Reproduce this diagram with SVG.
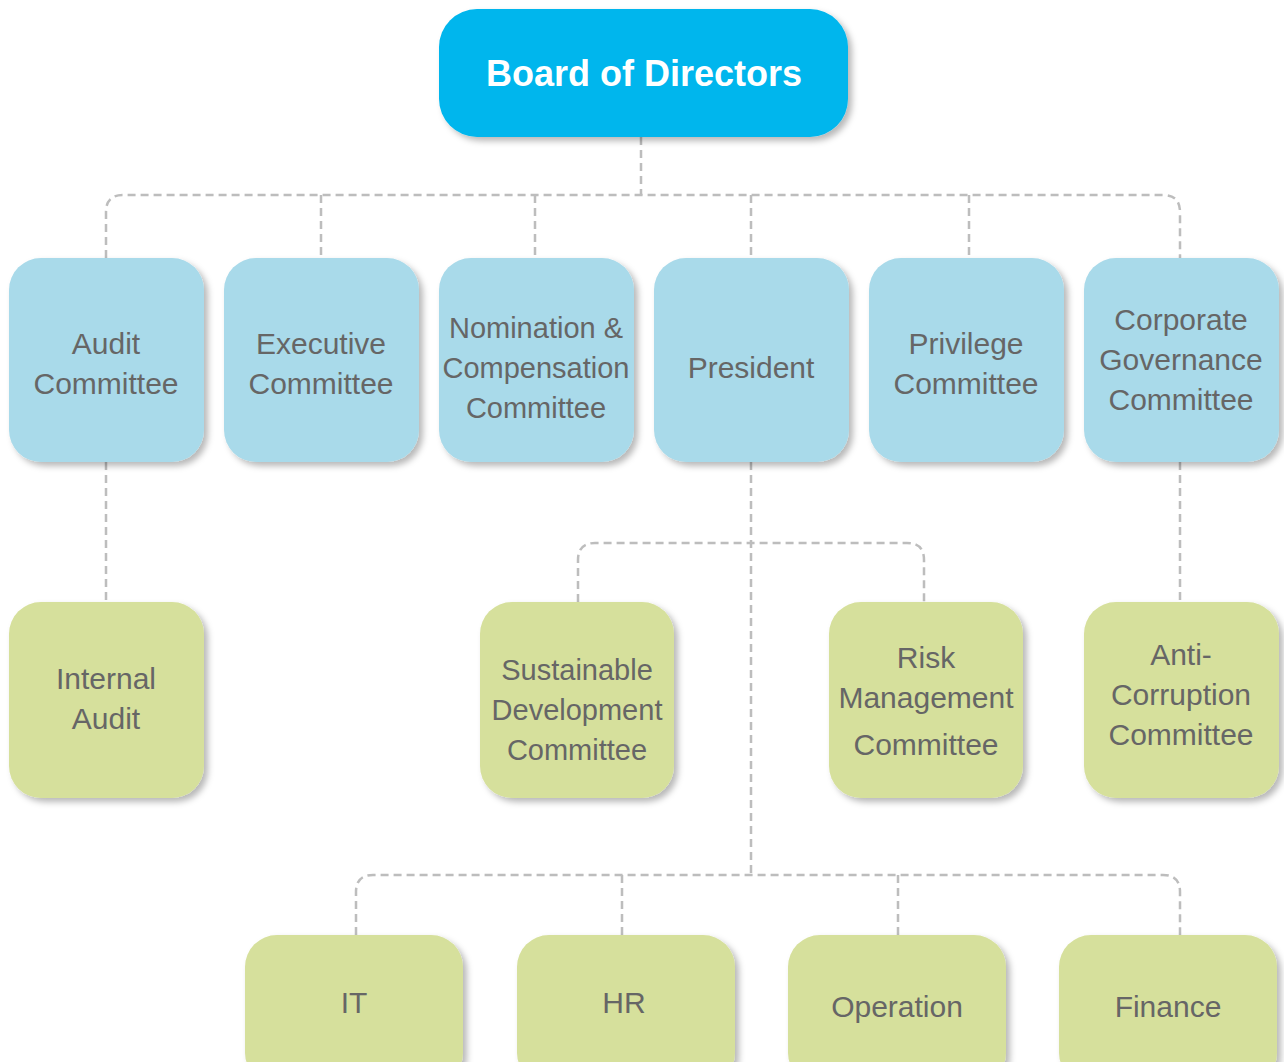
<svg xmlns="http://www.w3.org/2000/svg" width="1284" height="1062" viewBox="0 0 1284 1062">
<defs>
<filter id="sh" x="-20%" y="-20%" width="140%" height="140%">
<feDropShadow dx="4" dy="4" stdDeviation="3" flood-color="#000" flood-opacity="0.28"/>
</filter>
<style>
.board{fill:#05B6ED;filter:url(#sh)}
.blue{fill:#A9DAEA;filter:url(#sh)}
.green{fill:#D6E09C;filter:url(#sh)}
.t{font-family:"Liberation Sans",Arial,sans-serif;font-size:30px;fill:#666;text-anchor:middle}
.s{font-size:29px}
.bt{font-family:"Liberation Sans",Arial,sans-serif;font-size:36px;font-weight:bold;fill:#fff;text-anchor:middle}
.c{fill:none;stroke:#BDBDBD;stroke-width:2.5;stroke-dasharray:8 5}
</style>
</defs>
<rect width="1284" height="1062" fill="#fff"/>
<g id="connectors">
<path class="c" d="M641,137 V195"/>
<path class="c" d="M106,258 V212 Q106,195 123,195 H1163 Q1180,195 1180,212 V258"/>
<path class="c" d="M321,195 V258"/>
<path class="c" d="M535,195 V258"/>
<path class="c" d="M751,195 V258"/>
<path class="c" d="M969,195 V258"/>
<path class="c" d="M106,462 V602"/>
<path class="c" d="M1180,462 V602"/>
<path class="c" d="M751,462 V875"/>
<path class="c" d="M578,602 V560 Q578,543 595,543 H907 Q924,543 924,560 V602"/>
<path class="c" d="M356,935 V892 Q356,875 373,875 H1163 Q1180,875 1180,892 V935"/>
<path class="c" d="M622,875 V935"/>
<path class="c" d="M898,875 V935"/>
</g>
<g id="board"><rect class="board" x="439" y="9" width="409" height="128" rx="38"/><text class="bt" x="644" y="86">Board of Directors</text></g>
<g id="audit"><rect class="blue" x="9" y="258" width="195" height="204" rx="32"/><text class="t" x="106" y="354">Audit</text><text class="t" x="106" y="394">Committee</text></g>
<g id="executive"><rect class="blue" x="224" y="258" width="195" height="204" rx="32"/><text class="t" x="321" y="354">Executive</text><text class="t" x="321" y="394">Committee</text></g>
<g id="nomination"><rect class="blue" x="439" y="258" width="195" height="204" rx="32"/><text class="t s" x="536" y="338">Nomination &amp;</text><text class="t s" x="536" y="378">Compensation</text><text class="t s" x="536" y="418">Committee</text></g>
<g id="president"><rect class="blue" x="654" y="258" width="195" height="204" rx="32"/><text class="t" x="751" y="378">President</text></g>
<g id="privilege"><rect class="blue" x="869" y="258" width="195" height="204" rx="32"/><text class="t" x="966" y="354">Privilege</text><text class="t" x="966" y="394">Committee</text></g>
<g id="corporate"><rect class="blue" x="1084" y="258" width="195" height="204" rx="32"/><text class="t" x="1181" y="330">Corporate</text><text class="t" x="1181" y="370">Governance</text><text class="t" x="1181" y="410">Committee</text></g>
<g id="internal-audit"><rect class="green" x="9" y="602" width="195" height="196" rx="32"/><text class="t" x="106" y="689">Internal</text><text class="t" x="106" y="729">Audit</text></g>
<g id="sustainable"><rect class="green" x="480" y="602" width="194" height="196" rx="32"/><text class="t s" x="577" y="680">Sustainable</text><text class="t s" x="577" y="720">Development</text><text class="t s" x="577" y="760">Committee</text></g>
<g id="risk"><rect class="green" x="829" y="602" width="194" height="196" rx="32"/><text class="t" x="926" y="668">Risk</text><text class="t" x="926" y="708">Management</text><text class="t" x="926" y="755">Committee</text></g>
<g id="anti"><rect class="green" x="1084" y="602" width="195" height="196" rx="32"/><text class="t" x="1181" y="665">Anti-</text><text class="t" x="1181" y="705">Corruption</text><text class="t" x="1181" y="745">Committee</text></g>
<g id="it"><rect class="green" x="245" y="935" width="218" height="150" rx="32"/><text class="t" x="354" y="1013">IT</text></g>
<g id="hr"><rect class="green" x="517" y="935" width="218" height="150" rx="32"/><text class="t" x="624" y="1013">HR</text></g>
<g id="operation"><rect class="green" x="788" y="935" width="218" height="150" rx="32"/><text class="t" x="897" y="1017">Operation</text></g>
<g id="finance"><rect class="green" x="1059" y="935" width="218" height="150" rx="32"/><text class="t" x="1168" y="1017">Finance</text></g>
</svg>
